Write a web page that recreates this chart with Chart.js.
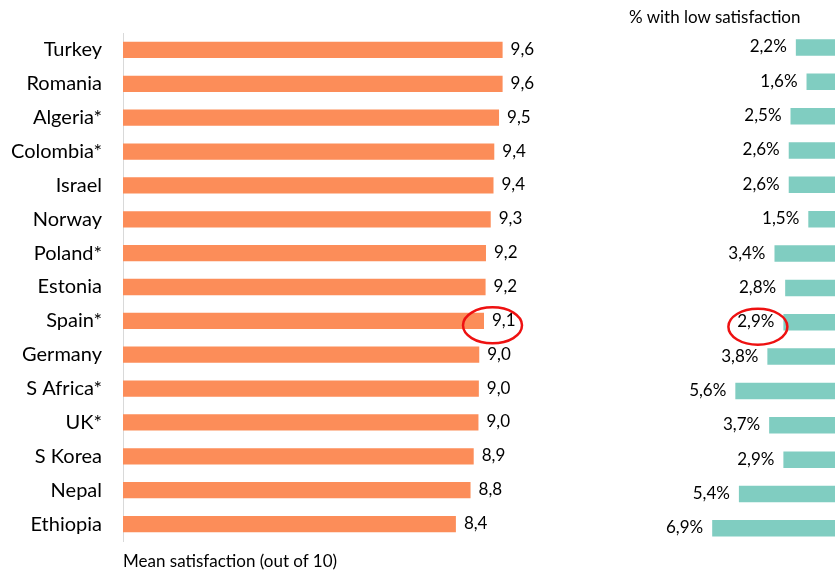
<!DOCTYPE html>
<html><head><meta charset="utf-8">
<script src="https://cdn.jsdelivr.net/npm/chart.js@4/dist/chart.umd.min.js"></script>
<style>
html,body{margin:0;padding:0;background:#fff;width:835px;height:574px;overflow:hidden;font-family:Lato, sans-serif;}
#cL{position:absolute;left:0;top:0;}
#cR{position:absolute;left:620px;top:0;}
.t{position:absolute;color:#000;font-size:17px;white-space:nowrap;line-height:1;}
</style></head><body>
<canvas id="cL" width="598" height="574"></canvas>
<canvas id="cR" width="215" height="574"></canvas>
<div class="t" id="xTitle" style="left:123px;top:552px;">Mean satisfaction (out of 10)</div>
<div class="t" id="rTitle" style="left:629px;top:8px;">% with low satisfaction</div>
<script>
// ---- data ----
const countries = ['Turkey','Romania','Algeria*','Colombia*','Israel','Norway','Poland*','Estonia','Spain*','Germany','S Africa*','UK*','S Korea','Nepal','Ethiopia'];
const meanSatisfaction = [9.59, 9.59, 9.50, 9.38, 9.36, 9.29, 9.17, 9.16, 9.12, 9.00, 8.99, 8.98, 8.86, 8.78, 8.41];
const lowSatisfactionPct = [2.2, 1.6, 2.5, 2.6, 2.6, 1.5, 3.4, 2.8, 2.9, 3.8, 5.6, 3.7, 2.9, 5.4, 6.9];
const highlighted = ['Spain*'];

const FONT = 'Lato, sans-serif';
const comma = (v) => v.toFixed(1).replace('.', ',');

const valueLabels = {
  id: 'valueLabels',
  afterDatasetsDraw(chart, args, opts) {
    const ctx = chart.ctx;
    const meta = chart.getDatasetMeta(0);
    const ds = chart.data.datasets[0];
    ctx.save();
    ctx.font = opts.font;
    ctx.fillStyle = '#000';
    ctx.textBaseline = 'middle';
    meta.data.forEach((bar, i) => {
      const txt = opts.suffix ? comma(ds.data[i]) + opts.suffix : comma(ds.data[i]);
      if (opts.side === 'right') {
        ctx.textAlign = 'left';
        ctx.fillText(txt, bar.x + opts.gap, bar.y + opts.dy);
      } else {
        ctx.textAlign = 'right';
        ctx.fillText(txt, bar.x - opts.gap, bar.y + opts.dy);
      }
    });
    ctx.restore();
  }
};

const ellipses = {
  id: 'ellipses',
  afterDraw(chart, args, opts) {
    const ctx = chart.ctx;
    const meta = chart.getDatasetMeta(0);
    ctx.save();
    ctx.strokeStyle = '#ee1111';
    ctx.lineWidth = 2.5;
    highlighted.forEach(name => {
      const i = chart.data.labels.indexOf(name);
      if (i < 0) return;
      const bar = meta.data[i];
      ctx.beginPath();
      ctx.ellipse(bar.x + opts.dx, bar.y + opts.dy, 29.5, 18, 0, 0, Math.PI * 2);
      ctx.stroke();
    });
    ctx.restore();
  }
};

new Chart(document.getElementById('cL'), {
  type: 'bar',
  data: {
    labels: countries,
    datasets: [{
      data: meanSatisfaction,
      backgroundColor: '#fc8d59',
      borderWidth: 0,
      categoryPercentage: 1,
      barPercentage: 0.48
    }]
  },
  plugins: [valueLabels, ellipses],
  options: {
    indexAxis: 'y',
    animation: false,
    responsive: false,
    layout: { padding: { top: 30.3, bottom: 28.5, left: 0, right: 0 } },
    plugins: {
      legend: { display: false },
      tooltip: { enabled: false },
      valueLabels: { side: 'right', gap: 8, dy: -0.5, font: '17px ' + FONT },
      ellipses: { dx: 8.5, dy: 4.5 }
    },
    scales: {
      x: { display: false, min: 0, max: 12 },
      y: {
        grid: { display: false, drawTicks: false },
        border: { display: true, color: '#d9d9d9', width: 1 },
        ticks: { color: '#000', font: { family: FONT, size: 20 }, padding: 21 },
        afterFit(s) { s.width = 123; }
      }
    }
  }
});

new Chart(document.getElementById('cR'), {
  type: 'bar',
  data: {
    labels: countries,
    datasets: [{
      data: lowSatisfactionPct,
      backgroundColor: '#80cdc1',
      borderWidth: 0,
      categoryPercentage: 1,
      barPercentage: 0.48
    }]
  },
  plugins: [valueLabels, ellipses],
  options: {
    indexAxis: 'y',
    animation: false,
    responsive: false,
    layout: { padding: { top: 30.3, bottom: 28.5, left: 0, right: 0 } },
    plugins: {
      legend: { display: false },
      tooltip: { enabled: false },
      valueLabels: { side: 'left', gap: 9, dy: -0.5, suffix: '%', font: '17px ' + FONT },
      ellipses: { dx: -25.5, dy: 4.5 }
    },
    scales: {
      x: { display: false, reverse: true, min: 0, max: 12.08 },
      y: { display: false }
    }
  }
});
</script>
</body></html>
